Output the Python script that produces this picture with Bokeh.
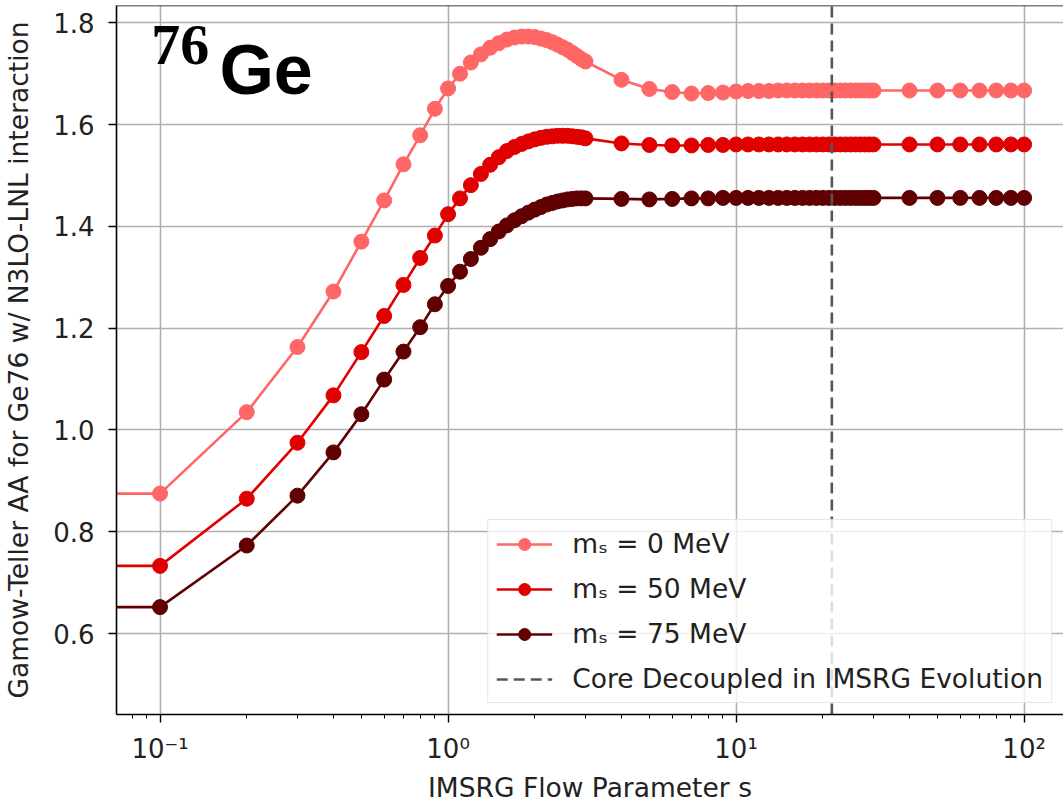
from bokeh.plotting import figure
from bokeh.models import (FixedTicker, CustomJSTickFormatter, PrintfTickFormatter, Span, Label,
                          Legend, LegendItem, Title)
from bokeh.embed import file_html
from bokeh.resources import INLINE

# ---------------- data ----------------
s_values = [0, 0.1, 0.2, 0.3, 0.4, 0.5, 0.6, 0.7, 0.8, 0.9, 1.0,
            1.1, 1.2, 1.3, 1.4, 1.5, 1.6, 1.7, 1.8, 1.9, 2.0,
            2.1, 2.2, 2.3, 2.4, 2.5, 2.6, 2.7, 2.8, 2.9, 3.0,
            4, 5, 6, 7, 8, 9, 10,
            11, 12, 13, 14, 15, 16, 17, 18, 19, 20,
            21, 22, 23, 24, 25, 26, 27, 28, 29, 30,
            40, 50, 60, 70, 80, 90, 100]

gt_ms0 = [0.875, 0.875, 1.035, 1.163, 1.272, 1.370, 1.451, 1.522, 1.579, 1.631, 1.671,
          1.700, 1.722, 1.738, 1.751, 1.760, 1.767, 1.771, 1.773, 1.773, 1.772,
          1.769, 1.766, 1.762, 1.757, 1.752, 1.747, 1.741, 1.735, 1.729, 1.724,
          1.688, 1.670, 1.664, 1.661, 1.662, 1.663, 1.665,
          1.666, 1.666, 1.666, 1.667, 1.667, 1.667, 1.667, 1.667, 1.667, 1.667,
          1.667, 1.667, 1.667, 1.667, 1.667, 1.667, 1.667, 1.667, 1.667, 1.667,
          1.667, 1.667, 1.667, 1.667, 1.667, 1.667, 1.667]

gt_ms50 = [0.733, 0.733, 0.865, 0.975, 1.068, 1.153, 1.224, 1.285, 1.338, 1.382, 1.424,
           1.455, 1.481, 1.503, 1.521, 1.536, 1.548, 1.556, 1.562, 1.567, 1.571,
           1.574, 1.576, 1.577, 1.578, 1.578, 1.578, 1.577, 1.576, 1.575, 1.573,
           1.563, 1.560, 1.559, 1.559, 1.560, 1.560, 1.561,
           1.561, 1.561, 1.561, 1.561, 1.561, 1.561, 1.561, 1.561, 1.561, 1.561,
           1.561, 1.561, 1.561, 1.561, 1.561, 1.561, 1.561, 1.561, 1.561, 1.561,
           1.561, 1.561, 1.561, 1.561, 1.561, 1.561, 1.561]

gt_ms75 = [0.652, 0.652, 0.773, 0.871, 0.956, 1.031, 1.099, 1.154, 1.202, 1.247, 1.283,
           1.311, 1.336, 1.358, 1.375, 1.390, 1.402, 1.412, 1.420, 1.427, 1.433,
           1.438, 1.443, 1.446, 1.449, 1.451, 1.453, 1.454, 1.455, 1.455, 1.455,
           1.454, 1.453, 1.454, 1.455, 1.455, 1.456, 1.456,
           1.456, 1.456, 1.456, 1.456, 1.456, 1.456, 1.456, 1.456, 1.456, 1.456,
           1.456, 1.456, 1.456, 1.456, 1.456, 1.456, 1.456, 1.456, 1.456, 1.456,
           1.456, 1.456, 1.456, 1.456, 1.456, 1.456, 1.456]

series_labels = ["mₛ = 0 MeV", "mₛ = 50 MeV", "mₛ = 75 MeV"]
series_colors = ["#ff6666", "#e00000", "#600000"]
core_decoupled_s = 21.5
core_label = "Core Decoupled in IMSRG Evolution"
y_ticks = [0.6, 0.8, 1.0, 1.2, 1.4, 1.6, 1.8]
x_ticks = [0.1, 1, 10, 100]
X_LO, X_HI = 0.0706, 137
Y_LO, Y_HI = 0.441, 1.834

# s = 0 cannot be shown on a log axis: clip it far to the left (as matplotlib does)
s_plot = [s if s > 0 else 1e-4 for s in s_values]

FONT = "DejaVu Sans"
W, H = 1063, 806
BL, BT, BB = 116, 5, 91

p = figure(width=W, height=H, x_axis_type="log",
           x_range=(X_LO, X_HI), y_range=(Y_LO, Y_HI),
           output_backend="svg", toolbar_location=None,
           min_border_left=BL, min_border_right=0, min_border_top=BT, min_border_bottom=BB,
           outline_line_color=None, background_fill_color="white")
p.title.visible = False

# grid
p.xgrid.ticker = FixedTicker(ticks=x_ticks)
p.ygrid.ticker = FixedTicker(ticks=y_ticks)
for g in (p.xgrid, p.ygrid):
    g.grid_line_color = "#b0b0b0"
    g.grid_line_width = 1.6

# x axis
xa = p.xaxis[0]
minor = [m * 10.0 ** k for k in range(-2, 3) for m in range(2, 10)]
xa.ticker = FixedTicker(ticks=x_ticks, minor_ticks=minor)
xa.formatter = CustomJSTickFormatter(code="""
const sup = {"-":"\u207b","0":"\u2070","1":"\u00b9","2":"\u00b2","3":"\u00b3","4":"\u2074",
             "5":"\u2075","6":"\u2076","7":"\u2077","8":"\u2078","9":"\u2079"};
const e = Math.round(Math.log10(tick));
return "10" + String(e).split("").map(c => sup[c]).join("");
""")

ya = p.yaxis[0]
ya.ticker = FixedTicker(ticks=y_ticks)
ya.formatter = PrintfTickFormatter(format="%.1f")
ya.axis_label = "Gamow-Teller AA for Ge76 w/ N3LO-LNL interaction"

for ax in (xa, ya):
    ax.axis_line_color = "black"
    ax.axis_line_width = 1.6
    ax.major_tick_line_color = "black"
    ax.major_tick_line_width = 1.4
    ax.major_tick_out = 8
    ax.major_tick_in = 0
    ax.minor_tick_line_color = "black"
    ax.minor_tick_line_width = 1.0
    ax.minor_tick_out = 4
    ax.minor_tick_in = 0
    ax.major_label_text_font = FONT
    ax.major_label_text_font_size = "26px"
    ax.major_label_text_color = "#222222"
    ax.axis_label_text_font = FONT
    ax.axis_label_text_font_size = "26.5px"
    ax.axis_label_text_font_style = "normal"
    ax.axis_label_text_color = "#222222"

xa.major_label_standoff = 11
ya.major_label_standoff = 14
ya.axis_label_standoff = 16
ya.minor_tick_line_color = None

# x axis label, as a title panel below the axis
p.add_layout(Title(text="IMSRG Flow Parameter s", align="center", text_font=FONT,
                   text_font_size="26.5px", text_font_style="normal", text_color="#222222",
                   standoff=7), "below")

# top spine
p.add_layout(Span(location=Y_HI, dimension="width", line_color="black", line_width=1.6))

items = []
for ys, col, lab in zip([gt_ms0, gt_ms50, gt_ms75], series_colors, series_labels):
    r1 = p.line(s_plot, ys, line_color=col, line_width=2.6)
    r2 = p.scatter(s_plot, ys, size=15, fill_color=col, line_color=col, marker="circle")
    items.append(LegendItem(label=lab, renderers=[r1, r2]))

# vertical dashed line where the core decouples
core = p.line([core_decoupled_s, core_decoupled_s], [Y_LO, Y_HI], line_color="#555555",
              line_width=2.6, line_dash="11 6")
items.append(LegendItem(label=core_label, renderers=[core]))

legend = Legend(items=items, location="bottom_right")
legend.margin = 11
legend.padding = 8
legend.spacing = 14
legend.glyph_width = 56
legend.glyph_height = 30
legend.label_standoff = 20
legend.label_text_font = FONT
legend.label_text_font_size = "26.5px"
legend.label_text_color = "#222222"
legend.border_line_color = "#cccccc"
legend.border_line_width = 1.5
legend.background_fill_alpha = 0.8
p.add_layout(legend)

# nucleus label
p.add_layout(Label(x=0.0933, y=1.757, text="76", text_font="Liberation Serif",
                   text_font_style="bold", text_font_size="58px", text_color="black",
                   text_baseline="alphabetic"))
p.add_layout(Label(x=0.1607, y=1.708, text="Ge", text_font="Liberation Sans",
                   text_font_style="bold", text_font_size="70px", text_color="black",
                   text_baseline="alphabetic"))

open("out.html", "w").write(file_html(p, INLINE))
